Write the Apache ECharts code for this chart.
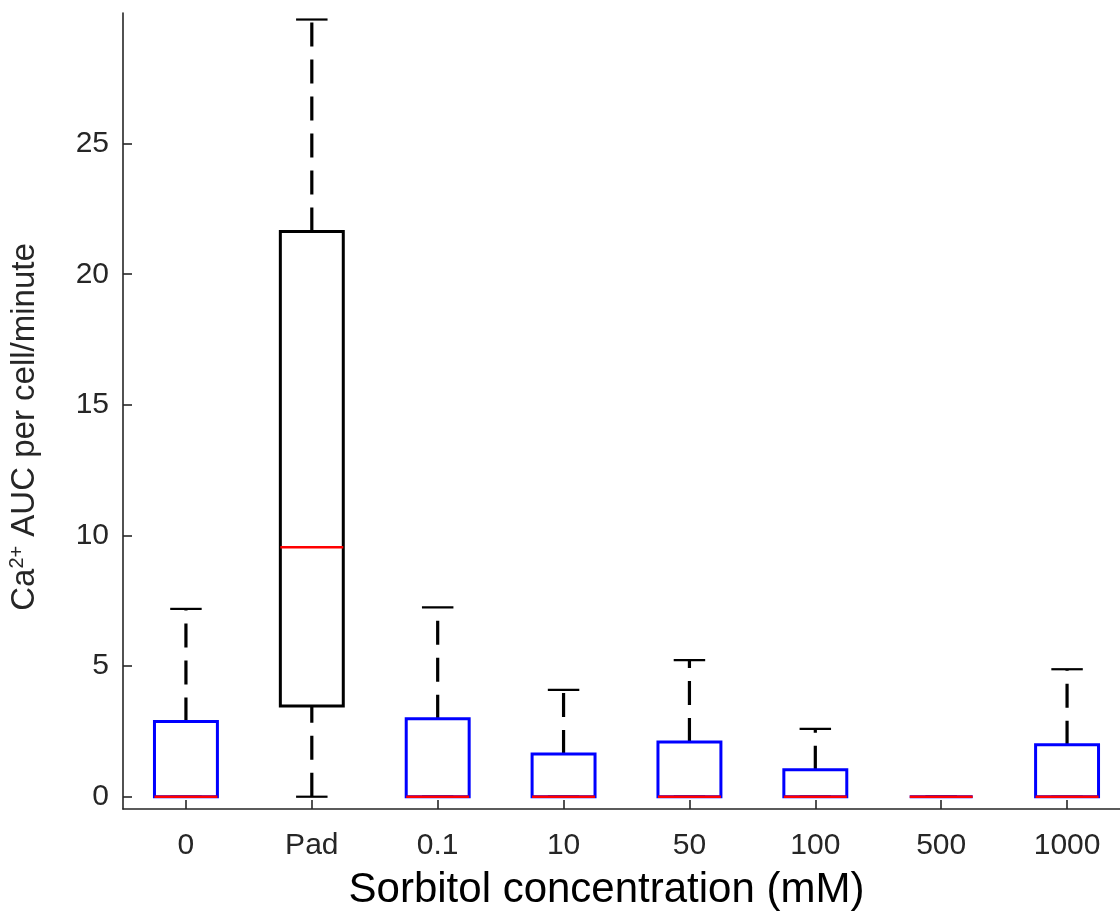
<!DOCTYPE html>
<html>
<head>
<meta charset="utf-8">
<script src="https://cdn.jsdelivr.net/npm/echarts@6/dist/echarts.min.js"></script>
<style>
html,body{margin:0;padding:0;background:#fff;}
#chart{width:1120px;height:914px;}
</style>
</head>
<body>
<div id="chart"></div>
<script>
// ---- data ----
const categories  = ['0', 'Pad', '0.1', '10', '50', '100', '500', '1000'];
const whiskerLow  = [0, 0, 0, 0, 0, 0, 0, 0];
const q1          = [0, 3.47, 0, 0, 0, 0, 0, 0];
const median      = [0, 9.55, 0, 0, 0, 0, 0, 0];
const q3          = [2.88, 21.64, 2.98, 1.64, 2.09, 1.03, 0, 1.99];
const whiskerHigh = [7.19, 29.75, 7.25, 4.09, 5.23, 2.60, 0, 4.88];
const yTicks      = [0, 5, 10, 15, 20, 25];
const controlCategory = 'Pad';

// ---- styles ----
const FONT = '"Liberation Sans", Arial, Helvetica, sans-serif';
const AXIS = '#262626';
const BOX_COLOR = '#0000ff';
const CONTROL_COLOR = '#000000';
const MEDIAN_COLOR = '#ff0000';

const boxData = categories.map((c, i) => [i, whiskerLow[i], q1[i], median[i], q3[i], whiskerHigh[i]]);

function renderBox(params, api) {
  const xi = api.value(0);
  const lo = api.value(1), b1 = api.value(2), md = api.value(3), b3 = api.value(4), hi = api.value(5);
  const bw = api.size([1, 0])[0];
  const half = bw * 0.25;
  const capHalf = bw * 0.125;
  const pLo = api.coord([xi, lo]);
  const p1 = api.coord([xi, b1]);
  const pMd = api.coord([xi, md]);
  const p3 = api.coord([xi, b3]);
  const pHi = api.coord([xi, hi]);
  const cx = pMd[0];
  const color = categories[xi] === controlCategory ? CONTROL_COLOR : BOX_COLOR;
  const dash = { stroke: '#000', lineWidth: 3.2, lineDash: [24, 13], fill: null };
  const cap = { stroke: '#000', lineWidth: 2.2, fill: null };
  return {
    type: 'group',
    children: [
      { type: 'line', shape: { x1: cx, y1: p3[1], x2: cx, y2: pHi[1] }, style: dash },
      { type: 'line', shape: { x1: cx, y1: pLo[1], x2: cx, y2: p1[1] }, style: dash },
      { type: 'line', shape: { x1: cx - capHalf, y1: pHi[1], x2: cx + capHalf, y2: pHi[1] }, style: cap },
      { type: 'line', shape: { x1: cx - capHalf, y1: pLo[1], x2: cx + capHalf, y2: pLo[1] }, style: cap },
      { type: 'rect', shape: { x: cx - half, y: p3[1], width: half * 2, height: p1[1] - p3[1] },
        style: { stroke: color, lineWidth: 3, fill: null } },
      { type: 'line', shape: { x1: cx - half, y1: pMd[1], x2: cx + half, y2: pMd[1] },
        style: { stroke: MEDIAN_COLOR, lineWidth: 2.5, fill: null } }
    ]
  };
}

const chart = echarts.init(document.getElementById('chart'), null, { renderer: 'canvas' });
chart.setOption({
  animation: false,
  backgroundColor: '#ffffff',
  grid: {
    left: 123, top: 13, width: 1007, bottom: 105,
    containLabel: false, outerBoundsMode: 'none'
  },
  xAxis: {
    type: 'category',
    data: categories,
    boundaryGap: true,
    axisLine: { show: true, onZero: false, lineStyle: { color: AXIS, width: 1.6 } },
    axisTick: { show: true, inside: true, length: 9, alignWithLabel: true, lineStyle: { color: AXIS, width: 1.6 } },
    axisLabel: { color: AXIS, fontSize: 30, fontFamily: FONT, margin: 22, interval: 0 },
    splitLine: { show: false },
    name: 'Sorbitol concentration (mM)',
    nameLocation: 'middle',
    nameGap: 60,
    nameTextStyle: { color: '#000', fontSize: 42, fontFamily: FONT, padding: [0, 40, 0, 0] }
  },
  yAxis: {
    type: 'value',
    min: -0.47,
    max: 30,
    axisLine: { show: true, onZero: false, lineStyle: { color: AXIS, width: 1.6 } },
    axisTick: { show: true, inside: true, length: 9, customValues: yTicks, lineStyle: { color: AXIS, width: 1.6 } },
    axisLabel: { color: AXIS, fontSize: 30, fontFamily: FONT, margin: 14, customValues: yTicks },
    splitLine: { show: false },
    name: '{n|Ca}{s|2+}{n| AUC per cell/minute}',
    nameLocation: 'middle',
    nameRotate: 90,
    nameGap: 81,
    nameTextStyle: {
      color: AXIS, fontFamily: FONT, fontSize: 33, padding: [0, 32, 0, 0],
      rich: {
        n: { fontSize: 33, fontFamily: FONT, color: AXIS, lineHeight: 35 },
        s: { fontSize: 20, fontFamily: FONT, color: AXIS, verticalAlign: 'top', lineHeight: 35 }
      }
    }
  },
  series: [{
    type: 'custom',
    renderItem: renderBox,
    encode: { x: 0, y: [1, 2, 3, 4, 5] },
    data: boxData,
    clip: false
  }]
});
</script>
</body>
</html>
